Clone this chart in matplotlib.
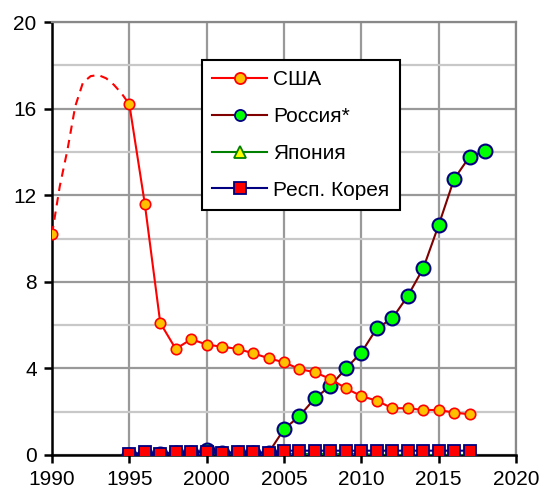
import matplotlib
matplotlib.use('Agg')
import matplotlib.pyplot as plt

plt.rcParams['font.family'] = ['Liberation Sans', 'DejaVu Sans']

# US, dashed part (estimated 1990-1995)
usa_dash_years = [1990, 1990.5, 1991, 1991.5, 1992, 1992.5, 1993, 1993.5, 1994, 1994.5, 1995]
usa_dash_vals = [10.2, 12.4, 14.1, 16.1, 17.2, 17.5, 17.55, 17.4, 17.1, 16.7, 16.2]

usa_years = [1990] + list(range(1995, 2018))
usa_vals = [10.2, 16.2, 11.6, 6.1, 4.9, 5.35, 5.1, 5.0, 4.9, 4.7, 4.47, 4.28, 3.97, 3.82,
            3.51, 3.08, 2.72, 2.51, 2.16, 2.16, 2.08, 2.08, 1.96, 1.88]

rus_years = list(range(1995, 2019))
rus_vals = [0.0, 0.05, 0.05, 0.1, 0.1, 0.23, 0.1, 0.1, 0.1, 0.1,
            1.19, 1.8, 2.62, 3.19, 4.0, 4.73, 5.85, 6.31, 7.34, 8.62, 10.62, 12.75, 13.78, 14.04]

jpn_years = list(range(1995, 2018))
jpn_vals = [0.0, 0.0, 0.0, 0.0, 0.0, 0.0, 0.0, 0.0, 0.0, 0.0,
            0.05, 0.05, 0.05, 0.05, 0.05, 0.05, 0.0, 0.0, 0.0, 0.0, 0.0, 0.0, 0.0]

kor_years = list(range(1995, 2018))
kor_vals = [0.03, 0.12, 0.03, 0.12, 0.12, 0.12, 0.1, 0.12, 0.12, 0.1,
            0.2, 0.2, 0.2, 0.2, 0.2, 0.2, 0.2, 0.2, 0.2, 0.2, 0.2, 0.2, 0.2]

labels = ['США', 'Россия*', 'Япония', 'Респ. Корея']

fig = plt.figure(figsize=(5.41, 4.95), dpi=100)
ax = fig.add_axes([52 / 541, 1 - 455 / 495, (516 - 52) / 541, (455 - 22) / 495])

ax.set_xlim(1990, 2020)
ax.set_ylim(0, 20)
ax.set_xticks(range(1990, 2021, 5))
ax.set_yticks(range(0, 21, 4))
ax.set_yticks(range(2, 20, 4), minor=True)
ax.tick_params(axis='y', which='minor', length=0)
ax.grid(True, which='major', color='#999999', lw=1.6, zorder=0)
ax.grid(True, which='minor', axis='y', color='#c8c8c8', lw=1.6, zorder=0)
ax.set_axisbelow(True)

for s in ['left', 'bottom']:
    ax.spines[s].set_color('black')
    ax.spines[s].set_linewidth(1.8)
for s in ['top', 'right']:
    ax.spines[s].set_color('#888888')
    ax.spines[s].set_linewidth(1.6)
ax.tick_params(axis='both', which='major', length=6, width=1.8, color='black',
               labelsize=15, direction='out')
ax.tick_params(axis='x', pad=5)
ax.tick_params(axis='y', pad=5)

ax.plot(usa_dash_years, usa_dash_vals, color='red', lw=1.5, ls=(0, (4, 3)), zorder=3)

ax.plot(jpn_years, jpn_vals, color='#008000', lw=1.5, marker='^', ms=8,
        mfc='yellow', mec='#008000', mew=1.2, zorder=4, label=labels[2])
ax.plot(kor_years, kor_vals, color='#000080', lw=1.5, marker='s', ms=8,
        mfc='red', mec='#000080', mew=1.3, zorder=5, label=labels[3])
ax.plot(rus_years, rus_vals, color='#800000', lw=1.5, marker='o', ms=10,
        mfc='#00ff00', mec='#000080', mew=1.5, zorder=4.5, label=labels[1])
ax.plot(usa_years[1:], usa_vals[1:], color='red', lw=1.5, marker='o', ms=7.5,
        mfc='#ffc000', mec='red', mew=1.2, zorder=6, label=labels[0])
ax.plot(usa_years[:1], usa_vals[:1], ls='none', marker='o', ms=7.5,
        mfc='#ffc000', mec='red', mew=1.2, zorder=6)

h, l = ax.get_legend_handles_labels()
order = [l.index(x) for x in labels]
leg_handles = []
for i in order:
    hh = h[i]
    leg_handles.append(plt.Line2D([], [], color=hh.get_color(), lw=1.5, marker=hh.get_marker(),
                                  ms=8, mfc=hh.get_mfc(), mec=hh.get_mec(), mew=1.3))
leg = ax.legend(leg_handles, labels, loc='upper left', bbox_to_anchor=((202 - 52) / 464, (455 - 60) / 433),
                fontsize=15, frameon=True, fancybox=False, edgecolor='black',
                framealpha=1, borderpad=0.5, labelspacing=0.85, handlelength=2.6,
                handletextpad=0.3, borderaxespad=0)
leg.get_frame().set_linewidth(1.5)
leg.set_zorder(10)

fig.savefig('out.png', dpi=100)
